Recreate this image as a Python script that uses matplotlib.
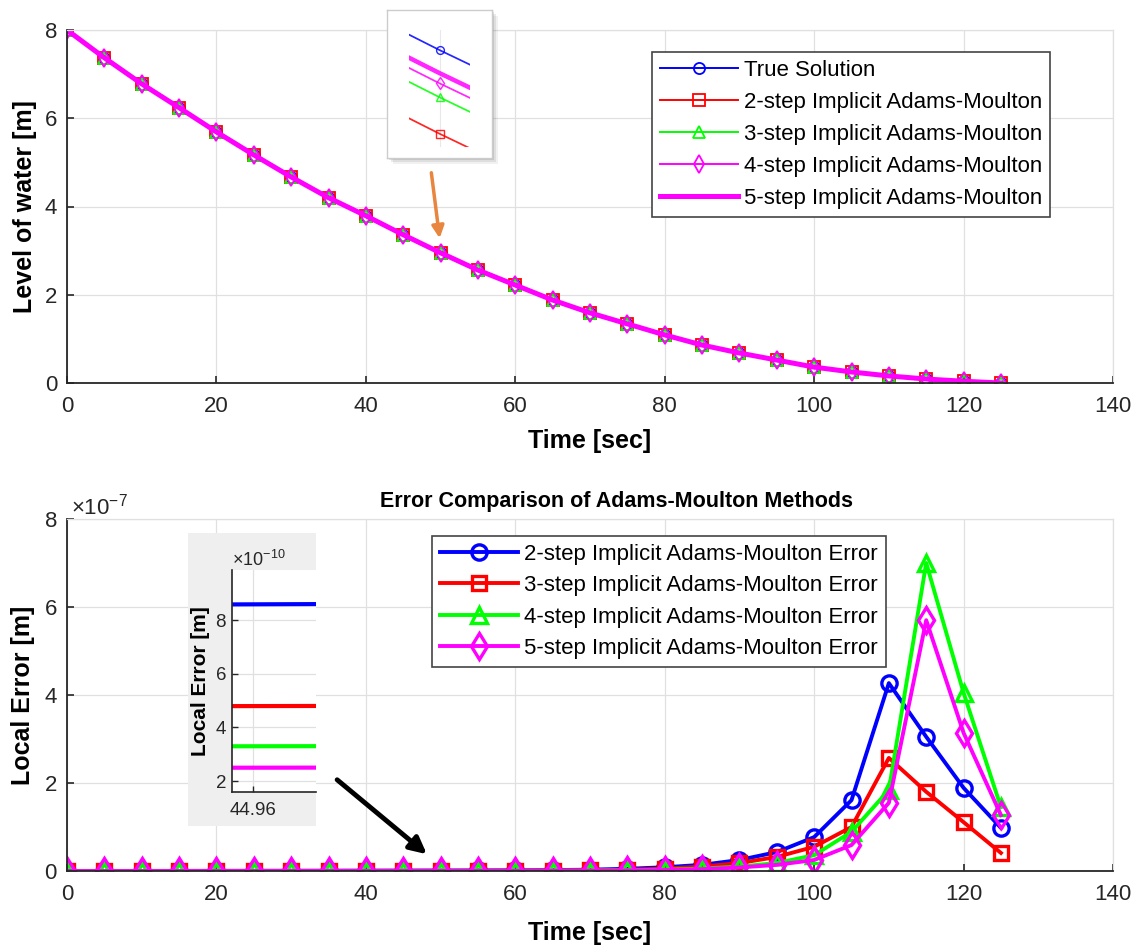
import numpy as np
import matplotlib
matplotlib.use("Agg")
import matplotlib.pyplot as plt
from matplotlib.ticker import ScalarFormatter
from matplotlib.patches import Rectangle

plt.rcParams['font.family'] = ['Liberation Sans', 'DejaVu Sans']
plt.rcParams['mathtext.fontset'] = 'custom'
plt.rcParams['mathtext.rm'] = 'Liberation Sans'
plt.rcParams['mathtext.it'] = 'Liberation Sans'

# ---------------- data ----------------
time_s = [0, 5, 10, 15, 20, 25, 30, 35, 40, 45, 50, 55, 60, 65, 70, 75, 80, 85,
          90, 95, 100, 105, 110, 115, 120, 125]

level_true = [8.00, 7.37, 6.78, 6.24, 5.69, 5.17, 4.67, 4.20, 3.79, 3.36, 2.95,
              2.56, 2.22, 1.88, 1.59, 1.34, 1.09, 0.86, 0.68, 0.52, 0.36, 0.25,
              0.16, 0.09, 0.04, 0.00]
level_am2 = level_true
level_am3 = level_true
level_am4 = level_true
level_am5 = level_true

# local errors [m]
err_am2 = [0, 1.0e-10, 1.5e-10, 2.1e-10, 2.9e-10, 3.8e-10, 4.9e-10, 6.0e-10, 7.2e-10,
           8.6e-10, 1.04e-9, 1.26e-9, 1.55e-9, 2.0e-9, 3.0e-9, 5.0e-9, 8.5e-9, 1.4e-8,
           2.5e-8, 4.3e-8, 7.7e-8, 1.61e-7, 4.27e-7, 3.05e-7, 1.89e-7, 0.98e-7]
err_am3 = [0, 0.6e-10, 0.9e-10, 1.2e-10, 1.7e-10, 2.2e-10, 2.8e-10, 3.4e-10, 4.1e-10,
           4.8e-10, 5.8e-10, 7.1e-10, 8.8e-10, 1.1e-9, 1.7e-9, 2.8e-9, 5.5e-9, 1.0e-8,
           1.8e-8, 3.2e-8, 5.5e-8, 1.00e-7, 2.57e-7, 1.80e-7, 1.11e-7, 0.41e-7]
err_am4 = [0, 0.4e-10, 0.6e-10, 0.9e-10, 1.2e-10, 1.5e-10, 1.9e-10, 2.3e-10, 2.8e-10,
           3.3e-10, 4.0e-10, 4.9e-10, 6.1e-10, 7.8e-10, 1.05e-9, 1.7e-9, 3.0e-9, 5.5e-9,
           1.0e-8, 1.8e-8, 3.6e-8, 0.89e-7, 1.84e-7, 7.00e-7, 4.05e-7, 1.45e-7]
err_am5 = [0, 0.3e-10, 0.45e-10, 0.65e-10, 0.9e-10, 1.15e-10, 1.45e-10, 1.75e-10, 2.1e-10,
           2.5e-10, 3.0e-10, 3.7e-10, 4.6e-10, 5.9e-10, 8.0e-10, 1.3e-9, 2.2e-9, 4.0e-9,
           8.0e-9, 1.4e-8, 2.5e-8, 0.59e-7, 1.55e-7, 5.70e-7, 3.14e-7, 1.27e-7]

level_labels = ['True Solution', '2-step Implicit Adams-Moulton',
                '3-step Implicit Adams-Moulton', '4-step Implicit Adams-Moulton',
                '5-step Implicit Adams-Moulton']
err_labels = ['2-step Implicit Adams-Moulton Error', '3-step Implicit Adams-Moulton Error',
              '4-step Implicit Adams-Moulton Error', '5-step Implicit Adams-Moulton Error']

# display-only vertical separation used in the magnified view of the top plot [m]
zoom_shift = [0.0, 0.78, 0.44, 0.31, 0.215]

x_ticks = [0, 20, 40, 60, 80, 100, 120, 140]

# ---------------- styling ----------------
BLUE, RED, GREEN, MAG = '#0000ff', '#ff0000', '#00ff00', '#ff00ff'
TXT = '#262626'
GRID = '#e0e0e0'

W, H = 1137, 950
fig = plt.figure(figsize=(W / 100, H / 100), dpi=100)


def fx(px):
    return px / W


def fy(py):
    return 1 - py / H


def style_axes(ax, tick_size=16):
    ax.grid(True, color=GRID, lw=0.9)
    ax.set_axisbelow(True)
    for s in ['left', 'bottom']:
        ax.spines[s].set_color(TXT)
        ax.spines[s].set_linewidth(1.3)
    for s in ['top', 'right']:
        ax.spines[s].set_color(GRID)
        ax.spines[s].set_linewidth(0.9)
    ax.tick_params(direction='in', length=5, width=1.2, colors=TXT,
                   labelsize=tick_size, top=False, right=False)
    ax.tick_params(axis='x', pad=9)
    ax.tick_params(axis='y', pad=7)


# ---------------- top axes ----------------
ax1 = fig.add_axes([fx(67), fy(383), fx(1113) - fx(67), fy(30) - fy(383)])
top_styles = [
    dict(color=BLUE, marker='o', lw=1.4, ms=8),
    dict(color=RED, marker='s', lw=1.4, ms=8),
    dict(color=GREEN, marker='^', lw=1.4, ms=8),
    dict(color=MAG, marker='d', lw=1.4, ms=9),
    dict(color=MAG, marker=None, lw=3.6, ms=0),
]
top_series = [level_true, level_am2, level_am3, level_am4, level_am5]
for yv, lab, st in zip(top_series, level_labels, top_styles):
    ax1.plot(time_s, yv, color=st['color'], lw=st['lw'], marker=st['marker'],
             ms=st['ms'], mfc='none', mew=1.3, label=lab)
ax1.set_xlim(0, 140)
ax1.set_ylim(0, 8)
ax1.set_xticks(x_ticks)
ax1.set_yticks([0, 2, 4, 6, 8])
style_axes(ax1)
ax1.set_xlabel('Time [sec]', fontsize=18, fontweight='bold', labelpad=9)
ax1.set_ylabel('Level of water [m]', fontsize=18, fontweight='bold', labelpad=6)
leg1 = ax1.legend(loc='upper left', bbox_to_anchor=(fx(652), fy(52)),
                  bbox_transform=fig.transFigure, borderaxespad=0, fontsize=16,
                  handlelength=3.5, handletextpad=0.3, labelspacing=0.5,
                  borderpad=0.35, fancybox=False, framealpha=1, edgecolor='#444444')
leg1.get_frame().set_linewidth(1.2)

# magnified view in the top plot (panel with shadow)
for k, a in [(6, 0.08), (4, 0.12), (2, 0.18)]:
    fig.patches.append(Rectangle((fx(387 + k), fy(158 + k)), fx(105), fy(0) - fy(148),
                                 transform=fig.transFigure, facecolor='#555555',
                                 alpha=a, edgecolor='none', zorder=5))
panel = fig.add_axes([fx(387), fy(158), fx(105), fy(0) - fy(148)], zorder=6)
panel.set_facecolor('white')
panel.set_xticks([])
panel.set_yticks([])
for s in panel.spines.values():
    s.set_color('#cccccc')
    s.set_linewidth(1)
zax = fig.add_axes([fx(409), fy(147), fx(470) - fx(409), fy(30) - fy(147)], zorder=7)
zax.patch.set_alpha(0)
for yv, sh, st in zip(top_series, zoom_shift, top_styles):
    zax.plot(time_s, np.asarray(yv) - sh, color=st['color'], lw=st['lw'] * 0.9,
             marker=st['marker'], ms=st['ms'] * 0.7, mfc='none', mew=1.0, alpha=0.85)
zax.set_xlim(48.25, 51.75)
zax.set_ylim(2.046, 3.137)
zax.set_xticks([50])
zax.set_yticks([])
zax.grid(True, color='#e8e8e8', lw=0.8)
zax.tick_params(length=0, labelbottom=False)
for s in zax.spines.values():
    s.set_visible(False)

ax1.annotate('', xy=(fx(440), fy(241)), xytext=(fx(431), fy(170)),
             xycoords='figure fraction', textcoords='figure fraction',
             arrowprops=dict(arrowstyle='-|>', color='#e8853f', lw=2.5,
                             mutation_scale=18))

# ---------------- bottom axes ----------------
ax2 = fig.add_axes([fx(67), fy(871), fx(1113) - fx(67), fy(519) - fy(871)])
err_series = [err_am2, err_am3, err_am4, err_am5]
err_styles = [
    dict(color=BLUE, marker='o', ms=11),
    dict(color=RED, marker='s', ms=10),
    dict(color=GREEN, marker='^', ms=12),
    dict(color=MAG, marker='d', ms=13),
]
for yv, lab, st in zip(err_series, err_labels, err_styles):
    ax2.plot(time_s, yv, color=st['color'], lw=2.8, marker=st['marker'],
             ms=st['ms'], mfc='none', mew=2.4, label=lab)
ax2.set_xlim(0, 140)
ax2.set_ylim(0, 8e-7)
ax2.set_xticks(x_ticks)
ax2.set_yticks([0, 2e-7, 4e-7, 6e-7, 8e-7])
fmt = ScalarFormatter(useMathText=True)
ax2.yaxis.set_major_formatter(fmt)
style_axes(ax2)
ax2.yaxis.get_offset_text().set_fontsize(16)
ax2.yaxis.get_offset_text().set_color(TXT)
ax2.yaxis.get_offset_text().set_x(0.004)
ax2.set_xlabel('Time [sec]', fontsize=18, fontweight='bold', labelpad=12)
ax2.set_ylabel('Local Error [m]', fontsize=18, fontweight='bold', labelpad=6)
ax2.set_title('Error Comparison of Adams-Moulton Methods', fontsize=15.5,
              fontweight='bold', x=0.525, pad=9)
leg2 = ax2.legend(loc='upper left', bbox_to_anchor=(fx(432), fy(536)),
                  bbox_transform=fig.transFigure, borderaxespad=0, fontsize=16,
                  handlelength=3.5, handletextpad=0.3, labelspacing=0.47,
                  borderpad=0.35, fancybox=False, framealpha=1, edgecolor='#444444')
leg2.get_frame().set_linewidth(1.2)

# inset with zoomed local error near t = 45
gpanel = fig.add_axes([fx(188), fy(826), fx(316) - fx(188), fy(533) - fy(826)], zorder=6)
gpanel.set_facecolor('#efefef')
gpanel.set_xticks([])
gpanel.set_yticks([])
for s in gpanel.spines.values():
    s.set_visible(False)
iax = fig.add_axes([fx(232), fy(792), fx(316) - fx(232), fy(570) - fy(792)], zorder=7)
iax.set_facecolor('white')
for yv, st in zip(err_series, err_styles):
    iax.plot(time_s, yv, color=st['color'], lw=3.0)
iax.set_xlim(44.9502, 44.9902)
iax.set_ylim(1.59e-10, 9.87e-10)
iax.set_xticks([44.96])
iax.set_xticklabels(['44.96'])
iax.set_yticks([2e-10, 4e-10, 6e-10, 8e-10])
iax.yaxis.set_major_formatter(ScalarFormatter(useMathText=True))
iax.grid(True, color=GRID, lw=0.9)
iax.set_axisbelow(True)
for s in ['left', 'bottom']:
    iax.spines[s].set_color(TXT)
    iax.spines[s].set_linewidth(1.2)
for s in ['top', 'right']:
    iax.spines[s].set_visible(False)
iax.tick_params(direction='in', length=4, width=1.0, colors=TXT, labelsize=13.5)
iax.tick_params(axis='x', pad=7)
iax.tick_params(axis='y', pad=4)
iax.yaxis.get_offset_text().set_fontsize(13)
iax.yaxis.get_offset_text().set_color(TXT)
iax.set_ylabel('Local Error [m]', fontsize=15, fontweight='bold', labelpad=3)

ax2.annotate('', xy=(fx(429), fy(856)), xytext=(fx(335), fy(778)),
             xycoords='figure fraction', textcoords='figure fraction',
             arrowprops=dict(arrowstyle='-|>', color='black', lw=3.5,
                             mutation_scale=25))

fig.savefig('out.png', dpi=100)
